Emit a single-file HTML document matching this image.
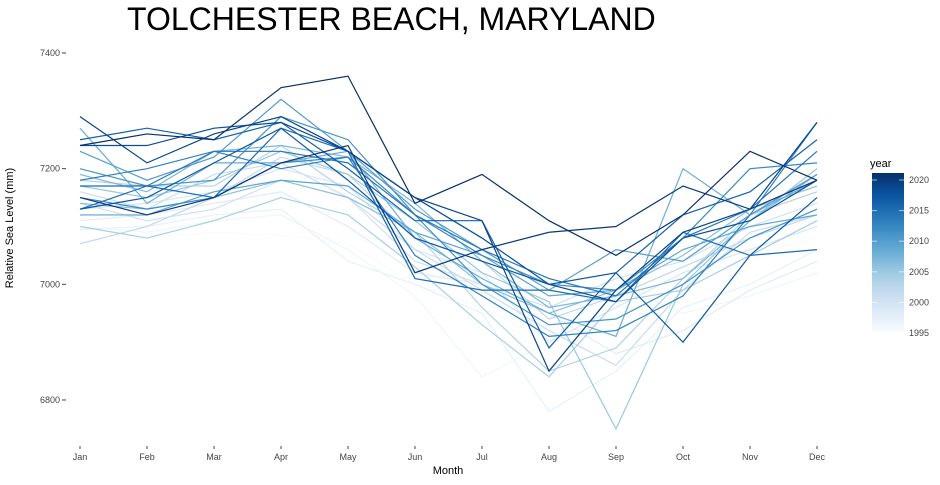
<!DOCTYPE html>
<html><head><meta charset="utf-8"><style>
body{margin:0;background:#fff;font-family:"Liberation Sans",sans-serif}
</style></head><body>
<svg width="940" height="480" xmlns="http://www.w3.org/2000/svg">
<defs><linearGradient id="g" x1="0" y1="1" x2="0" y2="0">
<stop offset="0" stop-color="#f7fbff"/><stop offset="0.125" stop-color="#deebf7"/><stop offset="0.25" stop-color="#c6dbef"/><stop offset="0.375" stop-color="#9ecae1"/><stop offset="0.5" stop-color="#6baed6"/><stop offset="0.625" stop-color="#4292c6"/><stop offset="0.75" stop-color="#2171b5"/><stop offset="0.875" stop-color="#08519c"/><stop offset="1" stop-color="#08306b"/></linearGradient></defs>
<text x="127" y="30" font-size="32" fill="#000">TOLCHESTER BEACH, MARYLAND</text>
<g id="axes"></g><g id="lines"></g>
<text x="448" y="474" font-size="11" text-anchor="middle">Month</text>
<text transform="translate(13,228) rotate(-90)" font-size="11" text-anchor="middle">Relative Sea Level (mm)</text>
<g>
<text x="870" y="167" font-size="11">year</text>
<rect x="872" y="173" width="32" height="159" fill="url(#g)"/>
<g id="leg"></g></g>
</svg>
<script>
const months=["Jan","Feb","Mar","Apr","May","Jun","Jul","Aug","Sep","Oct","Nov","Dec"];
const yTicks=[6800,7000,7200,7400];
const legendYears=[1995,2000,2005,2010,2015,2020];
const years=[1995,1996,1997,1998,1999,2000,2001,2002,2003,2004,2005,2006,2007,2008,2009,2010,2011,2012,2013,2014,2015,2016,2017,2018,2019,2020,2021];
const levels=[
[7075,7080,7090,7085,7070,7000,6960,6900,6940,7000,7050,7080],
[7100,7090,7110,7120,7060,6980,6840,6900,7000,6950,6980,7020],
[7095,7100,7120,7130,7040,7000,6950,6780,6850,6960,7000,7060],
[7110,7120,7140,7160,7100,7020,7000,6950,6880,6920,6990,7040],
[7130,7140,7160,7200,7170,7060,7020,6900,6960,7020,7060,7100],
[7140,7110,7130,7180,7150,7040,7000,6960,7010,7040,7100,7140],
[7160,7130,7190,7210,7150,7060,6990,6920,6860,6990,7090,7120],
[7070,7100,7150,7220,7190,7080,7040,6940,6980,7030,7080,7120],
[7180,7170,7170,7240,7160,7090,6960,6850,6890,7010,7120,7160],
[7100,7080,7110,7150,7120,7030,6930,6840,6970,6990,7050,7110],
[7170,7150,7180,7230,7190,7110,7020,6970,6750,7000,7110,7200],
[7140,7130,7150,7180,7150,7090,7000,6950,6990,7050,7130,7170],
[7190,7160,7230,7240,7220,7140,7040,6960,6980,7010,7110,7190],
[7270,7140,7210,7210,7230,7080,7010,6950,6910,7200,7120,7180],
[7120,7120,7160,7180,7170,7090,7050,6980,6990,7060,7100,7120],
[7230,7180,7220,7320,7230,7130,7060,6990,7060,7040,7120,7190],
[7200,7170,7180,7290,7250,7120,7000,6930,6940,7000,7080,7130],
[7150,7130,7150,7210,7220,7120,7050,7000,6990,7080,7200,7210],
[7180,7200,7230,7200,7220,7050,6980,6910,6920,6980,7120,7280],
[7130,7170,7230,7230,7210,7120,7060,7010,6980,7080,7130,7230],
[7170,7170,7150,7270,7230,7010,6990,6990,6970,7090,7050,7060],
[7250,7270,7250,7280,7200,7110,7110,6890,7020,7120,7160,7250],
[7130,7150,7210,7270,7180,7080,7040,7000,7020,6900,7050,7150],
[7240,7240,7270,7280,7230,7150,7080,7000,6970,7080,7110,7180],
[7290,7210,7260,7290,7230,7150,7110,6850,6990,7090,7130,7280],
[7150,7120,7150,7210,7240,7020,7060,7090,7100,7170,7130,7180],
[7240,7260,7250,7340,7360,7140,7190,7110,7050,7120,7230,7180]];
const NS="http://www.w3.org/2000/svg";
const xS=i=>80+i*67;
const yS=v=>53+(7400-v)*0.5783;
const yrS=y=>333-(y-1995)*6.12;
const stops=[[247,251,255],[222,235,247],[198,219,239],[158,202,225],[107,174,214],[66,146,198],[33,113,181],[8,81,156],[8,48,107]];
function col(y){let t=(y-1995)/(2021-1995)*8;let i=Math.min(7,Math.floor(t)),f=t-i;const a=stops[i],b=stops[i+1];return `rgb(${a.map((c,k)=>Math.round(c+(b[k]-c)*f)).join(",")})`;}
const ax=document.getElementById("axes");
months.forEach((m,i)=>{const t=document.createElementNS(NS,"text");t.setAttribute("x",xS(i));t.setAttribute("y",460);t.setAttribute("font-size","9");t.setAttribute("text-anchor","middle");t.setAttribute("fill","#444");t.textContent=m;


ax.appendChild(t);
const l=document.createElementNS(NS,"line");l.setAttribute("x1",xS(i));l.setAttribute("x2",xS(i));l.setAttribute("y1",446);l.setAttribute("y2",449);l.setAttribute("stroke","#444");


ax.appendChild(l);});
yTicks.forEach(v=>{const t=document.createElementNS(NS,"text");t.setAttribute("x",60);t.setAttribute("y",yS(v)+3);t.setAttribute("font-size","9");t.setAttribute("text-anchor","end");t.setAttribute("fill","#444");t.textContent=v;


ax.appendChild(t);
const l=document.createElementNS(NS,"line");l.setAttribute("x1",62);l.setAttribute("x2",66);l.setAttribute("y1",yS(v));l.setAttribute("y2",yS(v));l.setAttribute("stroke","#444");


ax.appendChild(l);});
const lg=document.getElementById("lines");
levels.forEach((s,k)=>{const p=document.createElementNS(NS,"polyline");p.setAttribute("points",s.map((v,i)=>xS(i)+","+yS(v)).join(" "));p.setAttribute("fill","none");p.setAttribute("stroke",col(years[k]));p.setAttribute("stroke-width","1.2");


lg.appendChild(p);});
const le=document.getElementById("leg");
legendYears.forEach(y=>{const t=document.createElementNS(NS,"text");t.setAttribute("x",909);t.setAttribute("y",yrS(y)+3);t.setAttribute("font-size","9");t.setAttribute("fill","#444");t.textContent=y;


le.appendChild(t);
[[872,877],[899,904]].forEach(([a,b])=>{const l=document.createElementNS(NS,"line");l.setAttribute("x1",a);l.setAttribute("x2",b);l.setAttribute("y1",yrS(y));l.setAttribute("y2",yrS(y));l.setAttribute("stroke","#fff");l.setAttribute("stroke-opacity","0.6");


le.appendChild(l);});});
</script>
</body></html>
